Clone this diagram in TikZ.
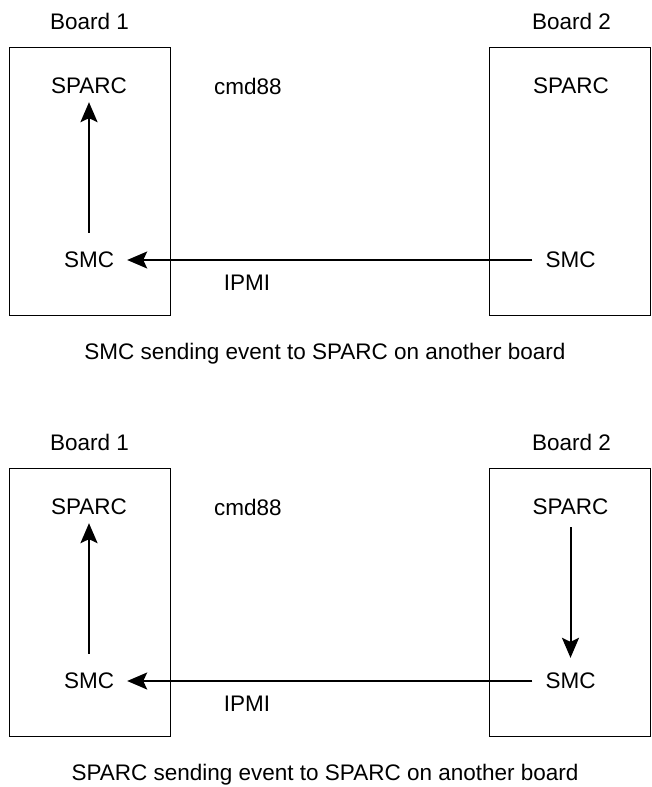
\documentclass[tikz,border=0pt]{standalone}
\usepackage{fontspec}
\setmainfont{Liberation Sans}
\usetikzlibrary{arrows.meta}
\begin{document}
\begin{tikzpicture}[x=1pt,y=-1pt,
  every node/.style={font=\fontsize{22.5}{27}\selectfont,inner sep=0pt},
  board/.style={draw,line width=1pt,minimum width=161pt,minimum height=268pt},
  arr/.style={line width=2pt,-{Stealth[length=20pt,width=17pt,inset=4pt]}}]
  \useasboundingbox (0,0) rectangle (651,787);
  \node[board] (boxA) at (90,181) {};
  \node[board] (boxB) at (569.5,181) {};
  \node (lblA) at (89.5,21) {Board 1};
  \node (lblB) at (571.5,21) {Board 2};
  \node (sparcA) at (89,86) {SPARC};
  \node (smcA) at (89,260) {SMC};
  \node (sparcB) at (571,86) {SPARC};
  \node (smcB) at (570.5,260) {SMC};
  \node (cmd) at (248,86) {cmd88};
  \node (ipmi) at (247,283) {IPMI};
  \node[anchor=base] (capA) at (325,359) {SMC sending event to SPARC on another board};
  \draw[arr,shorten <=19pt,shorten >=8pt] (smcA) -- (sparcA);
  \draw[arr,shorten <=13pt,shorten >=13pt] (smcB) -- (smcA);

  \node[board] (boxC) at (90,602) {};
  \node[board] (boxD) at (569.5,602) {};
  \node (lblC) at (89.5,442) {Board 1};
  \node (lblD) at (571.5,442) {Board 2};
  \node (sparcC) at (89,507) {SPARC};
  \node (smcC) at (89,681) {SMC};
  \node (sparcD) at (570.5,507) {SPARC};
  \node (smcD) at (570.5,681) {SMC};
  \node (cmd2) at (248,507) {cmd88};
  \node (ipmi2) at (247,704) {IPMI};
  \node[anchor=base] (capB) at (325,780) {SPARC sending event to SPARC on another board};
  \draw[arr,shorten <=19pt,shorten >=8pt] (smcC) -- (sparcC);
  \draw[arr,shorten <=13pt,shorten >=13pt] (smcD) -- (smcC);
  \draw[arr,shorten <=12pt,shorten >=15pt] (sparcD) -- (smcD);
\end{tikzpicture}
\end{document}
